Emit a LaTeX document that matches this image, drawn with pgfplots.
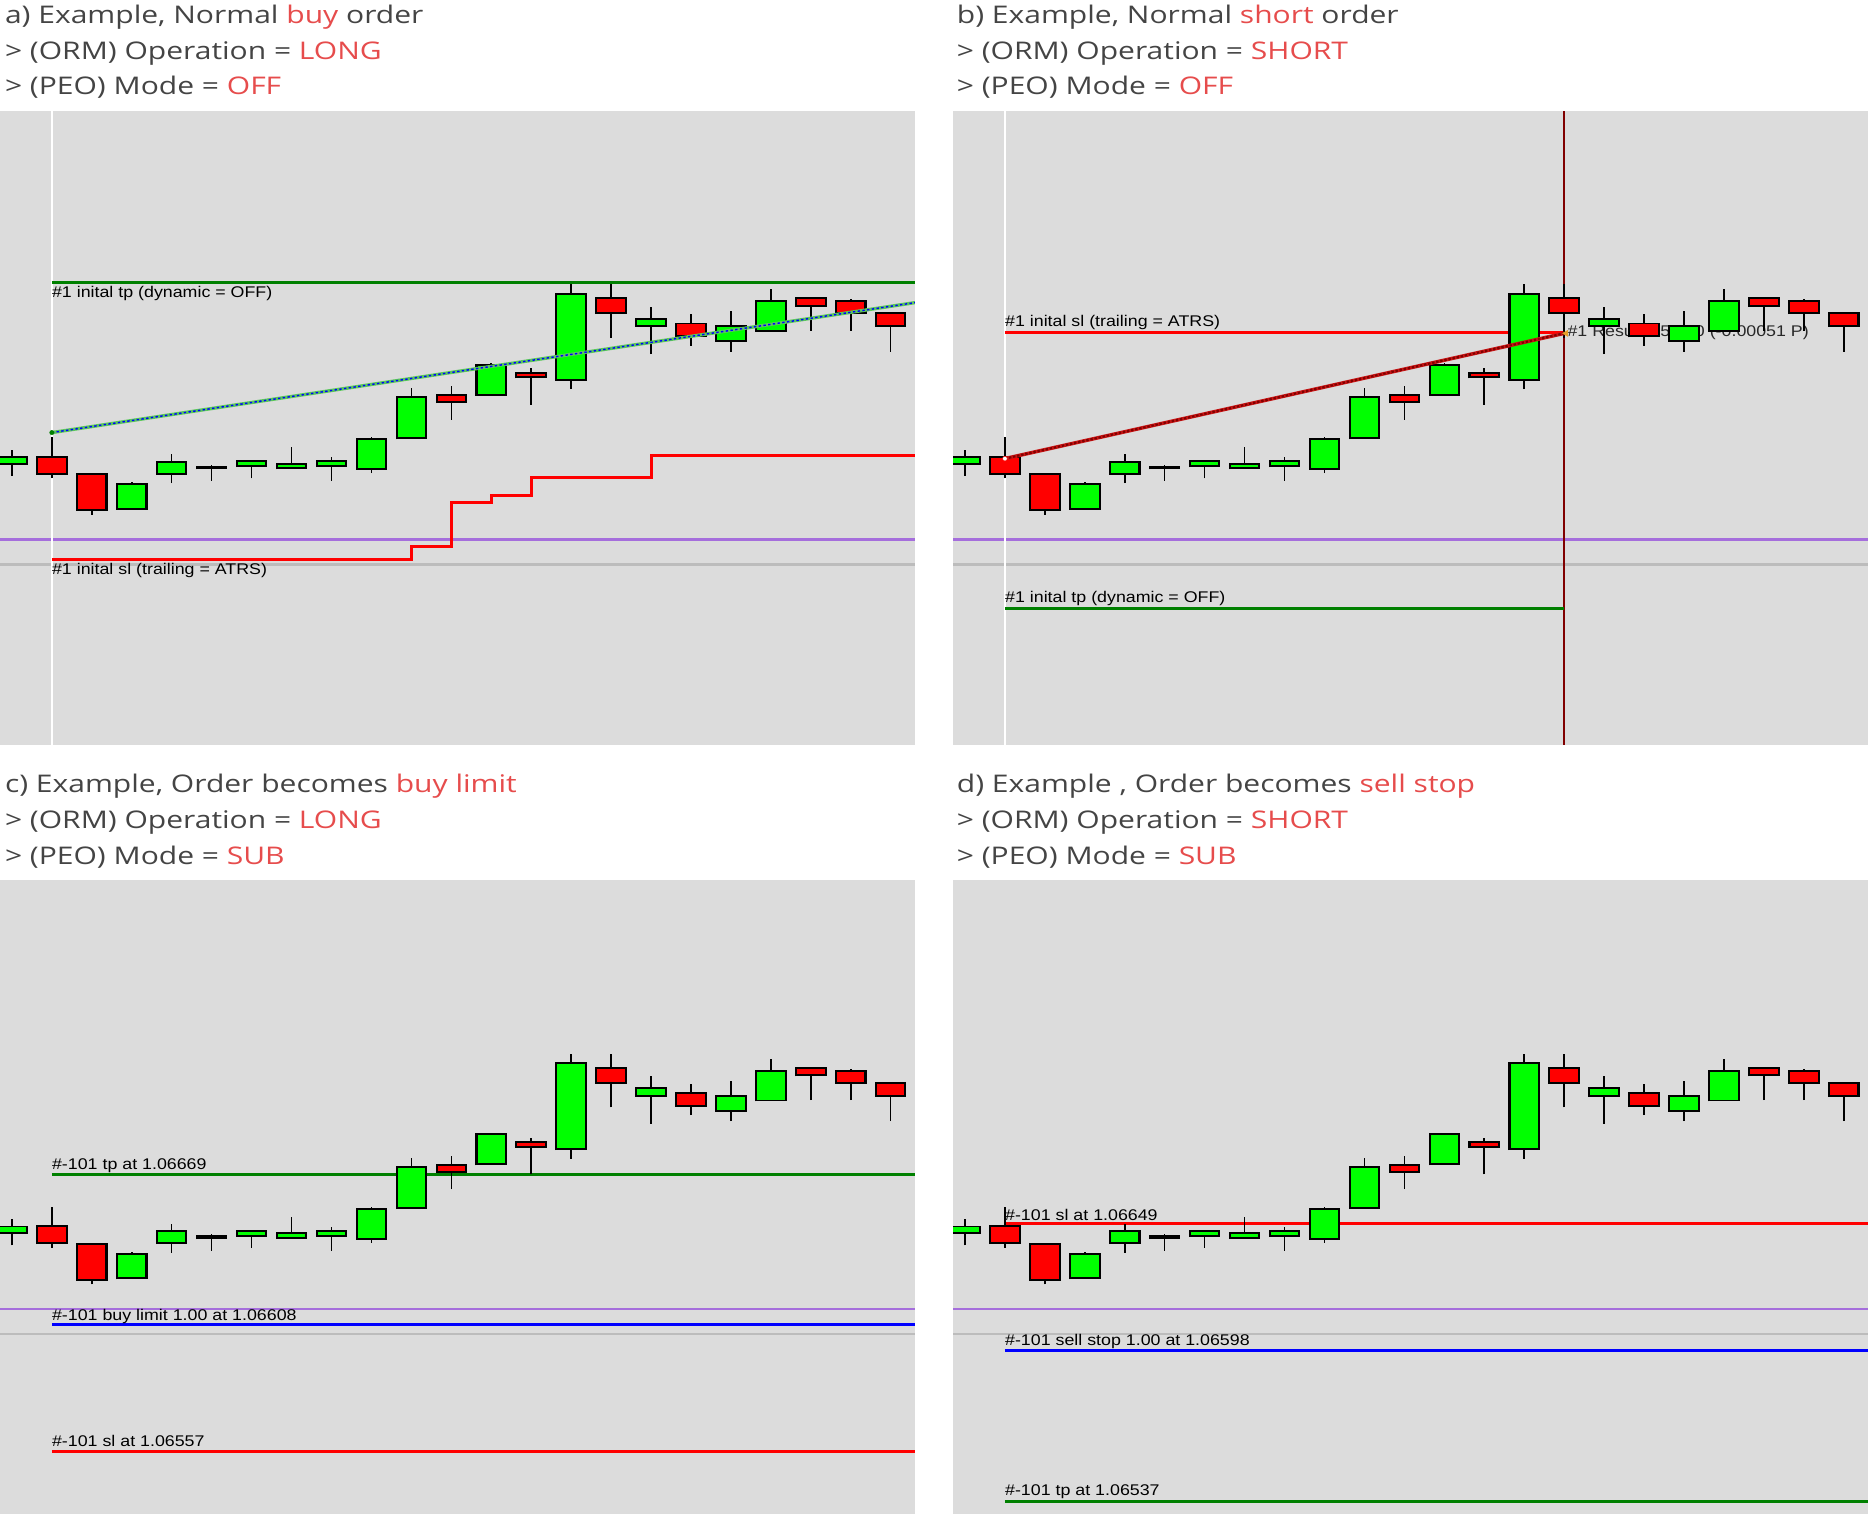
\documentclass[border=0pt]{standalone}
\usepackage{pgfplots}
\pgfplotsset{compat=1.18}
\usepackage{pgfplotstable}
\usepackage{fontspec}
\setmainfont{Open Sans}
\newfontfamily\titlefont[FakeStretch=1.235]{Open Sans}
\newfontfamily\mtfont[FakeStretch=1.15]{Liberation Sans}
\newcommand{\mt}{\mtfont\fontsize{13}{15}\selectfont}
\newcommand{\tf}{\titlefont\fontsize{20.4}{24}\selectfont}

\definecolor{bg}{RGB}{220,220,220}
\definecolor{tgray}{RGB}{68,68,68}
\definecolor{tred}{RGB}{230,76,76}
\definecolor{cgreen}{RGB}{0,255,0}
\definecolor{cred}{RGB}{255,0,0}
\definecolor{lgreen}{RGB}{0,128,0}
\definecolor{lpurple}{RGB}{165,110,220}
\definecolor{lgray}{RGB}{188,188,188}
\definecolor{lblue}{RGB}{0,0,255}
\definecolor{maroon}{RGB}{128,0,0}
\definecolor{diagred}{RGB}{200,20,20}
\definecolor{trendgreen}{RGB}{90,200,90}
\definecolor{mkorange}{RGB}{230,160,40}

% candles: x, body low, body high, wick low, wick high
\pgfplotstableread{
x lo hi l h
0 145.8 147.7 140.4 151.0
3 127.4 136.6 127.4 137.7
4 141.7 145.8 137.4 149.1
5 143.8 143.8 138.3 144.9
6 144.7 145.9 139.4 145.9
7 143.8 144.9 143.8 152.0
8 144.7 145.9 138.3 148.0
9 143.6 155.0 141.5 156.0
10 156.0 171.9 156.0 176.1
12 173.8 185.2 173.8 186.2
14 180.0 214.2 175.7 218.4
16 201.8 203.9 189.9 209.2
18 195.7 200.9 191.0 207.3
19 199.8 211.2 199.8 216.4
}\candG
\pgfplotstableread{
x lo hi l h
1 141.7 147.8 139.4 156.0
2 126.9 140.7 124.5 140.7
11 170.8 172.9 163.3 177.0
13 180.9 182.0 169.3 184.2
15 207.0 212.2 196.6 218.4
17 197.6 202.0 193.4 206.2
20 210.0 212.2 199.5 212.2
21 207.0 211.2 199.5 212.2
22 201.8 206.1 191.0 206.1
}\candR

\newcommand{\drawcandles}{%
\addplot[draw=none,forget plot,error bars/.cd,y dir=plus,y explicit,error mark=none,error bar style={draw=black,line width=1.3pt}] table[x=x,y=l,y error expr=\thisrow{h}-\thisrow{l}] {\candG};
\addplot[draw=none,forget plot,error bars/.cd,y dir=plus,y explicit,error mark=none,error bar style={draw=black,line width=1.3pt}] table[x=x,y=l,y error expr=\thisrow{h}-\thisrow{l}] {\candR};
\addplot[draw=none,forget plot,error bars/.cd,y dir=plus,y explicit,error mark=none,error bar style={draw=black,line width=26.5pt}] table[x=x,y expr=\thisrow{lo}-0.8,y error expr=\thisrow{hi}-\thisrow{lo}+1.6] {\candG};
\addplot[draw=none,forget plot,error bars/.cd,y dir=plus,y explicit,error mark=none,error bar style={draw=black,line width=26.5pt}] table[x=x,y expr=\thisrow{lo}-0.8,y error expr=\thisrow{hi}-\thisrow{lo}+1.6] {\candR};
\addplot[draw=none,forget plot,error bars/.cd,y dir=plus,y explicit,error mark=none,error bar style={draw=cgreen,line width=23pt}] table[x=x,y=lo,y error expr=\thisrow{hi}-\thisrow{lo}] {\candG};
\addplot[draw=none,forget plot,error bars/.cd,y dir=plus,y explicit,error mark=none,error bar style={draw=cred,line width=23pt}] table[x=x,y=lo,y error expr=\thisrow{hi}-\thisrow{lo}] {\candR};
}

\pgfplotsset{
 panel/.style={width=768pt,height=532pt,scale only axis,xmin=-0.298,xmax=22.607,ymin=31,ymax=289,
   axis line style={draw=none},ticks=none,axis background/.style={fill=bg}},
}
\tikzset{
 ttl/.style={anchor=base west,inner sep=0pt,font=\tf,text=tgray},
 lab/.style={anchor=west,inner sep=0pt,font=\mt,text=black},
}

\begin{document}
\begin{tikzpicture}[x=1pt,y=1pt]
\path[use as bounding box] (0,0) rectangle (1568,1271);

% titles
\node[ttl] at (4,1251.4) {a) Example, Normal \textcolor{tred}{buy} order};
\node[ttl] at (4,1221.2) {> (ORM) Operation = \textcolor{tred}{LONG}};
\node[ttl] at (4,1191.3) {> (PEO) Mode = \textcolor{tred}{OFF}};
\node[ttl] at (803,1251.4) {b) Example, Normal \textcolor{tred}{short} order};
\node[ttl] at (803,1221.2) {> (ORM) Operation = \textcolor{tred}{SHORT}};
\node[ttl] at (803,1191.3) {> (PEO) Mode = \textcolor{tred}{OFF}};
\node[ttl] at (4,605.4) {c) Example, Order becomes \textcolor{tred}{buy limit}};
\node[ttl] at (4,575.2) {> (ORM) Operation = \textcolor{tred}{LONG}};
\node[ttl] at (4,545.3) {> (PEO) Mode = \textcolor{tred}{SUB}};
\node[ttl] at (803,605.4) {d) Example , Order becomes \textcolor{tred}{sell stop}};
\node[ttl] at (803,575.2) {> (ORM) Operation = \textcolor{tred}{SHORT}};
\node[ttl] at (803,545.3) {> (PEO) Mode = \textcolor{tred}{SUB}};

% ---------------- panel a
\begin{axis}[panel,at={(0pt,646pt)},anchor=south west]
\addplot[lpurple,line width=2.2pt,forget plot] coordinates {(-0.298,114.4) (22.607,114.4)};
\addplot[lgray,line width=1.8pt,forget plot] coordinates {(-0.298,104.3) (22.607,104.3)};
\addplot[white,line width=2pt,forget plot] coordinates {(1,31) (1,289)};
\addplot[lgreen,line width=2.5pt,forget plot] coordinates {(1,219.2) (22.607,219.2)};
\addplot[cred,line width=2.5pt,const plot,forget plot] coordinates {(1,106.5) (10,111.8) (11,129.5) (12,132.5) (13,139.7) (16,148.7) (22.607,148.7)};
\node[lab] at (axis cs:1,214.8) {\#1 inital tp (dynamic = OFF)};
\node[lab] at (axis cs:1,102.0) {\#1 inital sl (trailing = ATRS)};
\drawcandles
\addplot[trendgreen,line width=2.8pt,forget plot] coordinates {(1,158.0) (22.607,210.9)};
\addplot[lblue,line width=1.2pt,dash pattern=on 2pt off 2pt,forget plot] coordinates {(1,158.0) (22.607,210.9)};
\addplot[only marks,mark=*,mark size=1.8pt,mark options={fill=lgreen,draw=lgreen},forget plot] coordinates {(1,158.0)};
\end{axis}

% ---------------- panel b
\begin{axis}[panel,at={(800pt,646pt)},anchor=south west]
\addplot[lpurple,line width=2.2pt,forget plot] coordinates {(-0.298,114.4) (22.607,114.4)};
\addplot[lgray,line width=1.8pt,forget plot] coordinates {(-0.298,104.3) (22.607,104.3)};
\addplot[white,line width=2pt,forget plot] coordinates {(1,31) (1,289)};
\addplot[maroon,line width=2.2pt,forget plot] coordinates {(15,31) (15,289)};
\addplot[cred,line width=2.5pt,forget plot] coordinates {(1,198.9) (15,198.9)};
\addplot[lgreen,line width=2.5pt,forget plot] coordinates {(1,86.4) (15,86.4)};
\node[lab] at (axis cs:1,202.8) {\#1 inital sl (trailing = ATRS)};
\node[lab] at (axis cs:1,90.3) {\#1 inital tp (dynamic = OFF)};
\node[lab,text={rgb,255:red,40;green,40;blue,40}] at (axis cs:15.08,198.6) {\#1 Result: -51.00 (-0.00051 P)};
\drawcandles
\addplot[diagred,line width=3pt,forget plot] coordinates {(1,147.4) (15,198.4)};
\addplot[maroon,line width=1.8pt,dash pattern=on 2pt off 1.5pt,forget plot] coordinates {(1,147.4) (15,198.4)};
\addplot[only marks,mark=triangle*,mark size=3pt,mark options={rotate=90,fill=mkorange,draw=mkorange},forget plot] coordinates {(15.05,198.4)};
\addplot[only marks,mark=*,mark size=2pt,mark options={fill=white,draw=cred},forget plot] coordinates {(1,147.4)};
\end{axis}

% ---------------- panel c
\begin{axis}[panel,at={(0pt,0pt)},anchor=south west]
\addplot[lpurple,line width=2.2pt,forget plot] coordinates {(-0.298,114.5) (22.607,114.5)};
\addplot[lgray,line width=1.8pt,forget plot] coordinates {(-0.298,104.3) (22.607,104.3)};
\addplot[lgreen,line width=2.5pt,forget plot] coordinates {(1,169.1) (22.607,169.1)};
\addplot[lblue,line width=2.5pt,forget plot] coordinates {(1,108.1) (22.607,108.1)};
\addplot[cred,line width=2.5pt,forget plot] coordinates {(1,56.7) (22.607,56.7)};
\node[lab] at (axis cs:1,172.7) {\#-101 tp at 1.06669};
\node[lab] at (axis cs:1,111.6) {\#-101 buy limit 1.00 at 1.06608};
\node[lab] at (axis cs:1,60.6) {\#-101 sl at 1.06557};
\drawcandles
\end{axis}

% ---------------- panel d
\begin{axis}[panel,at={(800pt,0pt)},anchor=south west]
\addplot[lpurple,line width=2.2pt,forget plot] coordinates {(-0.298,114.5) (22.607,114.5)};
\addplot[lgray,line width=1.8pt,forget plot] coordinates {(-0.298,104.3) (22.607,104.3)};
\addplot[cred,line width=2.5pt,forget plot] coordinates {(1,149.2) (22.607,149.2)};
\addplot[lblue,line width=2.5pt,forget plot] coordinates {(1,97.6) (22.607,97.6)};
\addplot[lgreen,line width=2.5pt,forget plot] coordinates {(1,36.3) (22.607,36.3)};
\node[lab] at (axis cs:1,153.0) {\#-101 sl at 1.06649};
\node[lab] at (axis cs:1,101.3) {\#-101 sell stop 1.00 at 1.06598};
\node[lab] at (axis cs:1,40.2) {\#-101 tp at 1.06537};
\drawcandles
\end{axis}
\end{tikzpicture}
\end{document}
